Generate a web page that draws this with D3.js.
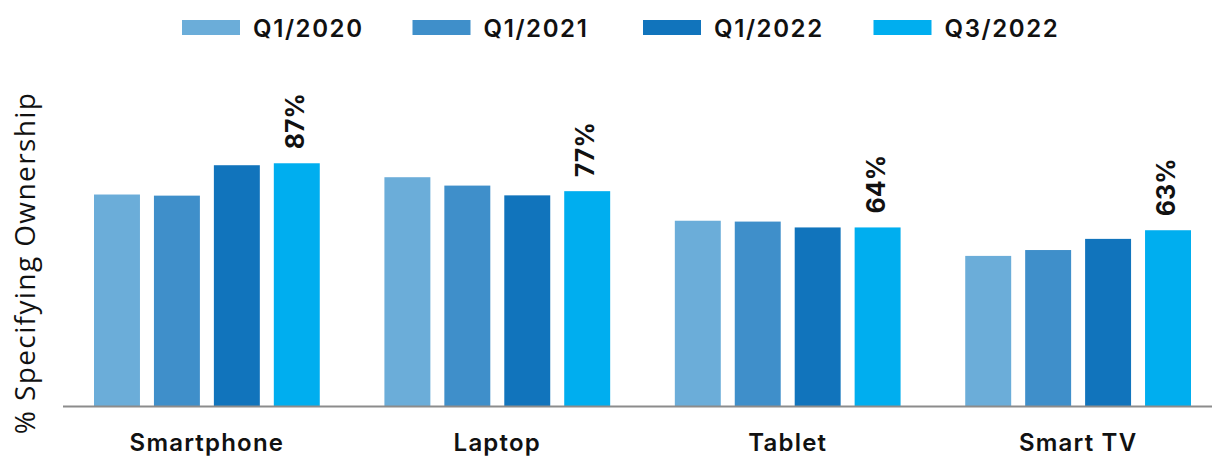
<!DOCTYPE html>
<html>
<head>
<meta charset="utf-8">
<script src="https://cdn.jsdelivr.net/npm/d3@7"></script>
<style>
	body { margin: 0; background: #fff; }
	svg { display: block; font-family: Inter, 'Open Sans', sans-serif; }
</style>
</head>
<body>
<div class="content"></div>
<script>
const w = 1226;
const h = 456;

const categories = ['Smartphone', 'Laptop', 'Tablet', 'Smart TV'];
const series = ['Q1/2020', 'Q1/2021', 'Q1/2022', 'Q3/2022'];
const colors = ['#6badd9', '#3f8fca', '#1174bc', '#00aeef'];

// one array per period, in category order
const q1_2020 = [75.8, 82.0, 66.4, 53.8];
const q1_2021 = [75.4, 79.0, 66.1, 55.9];
const q1_2022 = [86.3, 75.5, 64.0, 59.9];
const q3_2022 = [87, 77, 64, 63];
const values = [q1_2020, q1_2021, q1_2022, q3_2022];

const labelled = 'Q3/2022';

const data = categories.map((c, i) => ({
	category: c,
	bars: series.map((s, j) => ({ series: s, value: values[j][i] }))
}));

const svg = d3.select('.content').append('svg')
	.attr('width', w)
	.attr('height', h);

const x0 = d3.scaleBand()
	.domain(categories)
	.range([94, 1191])
	.paddingInner(0.2226)
	.paddingOuter(0);

const x1 = d3.scaleBand()
	.domain(series)
	.range([0, x0.bandwidth()])
	.paddingInner(0.2333)
	.paddingOuter(0);

const y = d3.scaleLinear()
	.domain([0, 100])
	.range([406, 127]);

const color = d3.scaleOrdinal()
	.domain(series)
	.range(colors);

// legend
const legend = svg.append('g')
	.attr('id', 'legend');

const item = legend.selectAll('g')
	.data(series)
	.enter()
	.append('g')
	.attr('transform', (d, i) => 'translate(' + (182 + i * 230.5) + ',0)');

item.append('rect')
	.attr('x', 0)
	.attr('y', 20)
	.attr('width', 58)
	.attr('height', 15)
	.attr('fill', (d) => color(d));

item.append('text')
	.attr('x', 71)
	.attr('y', 37)
	.style('font-size', '24px')
	.style('font-weight', 600)
	.style('letter-spacing', '1.6px')
	.style('fill', '#111')
	.text((d) => d);

// bars
const groups = svg.selectAll('.group')
	.data(data)
	.enter()
	.append('g')
	.attr('class', 'group')
	.attr('transform', (d) => 'translate(' + x0(d.category) + ',0)');

groups.selectAll('rect')
	.data((d) => d.bars)
	.enter()
	.append('rect')
	.attr('x', (d) => x1(d.series))
	.attr('y', (d) => y(d.value))
	.attr('width', x1.bandwidth())
	.attr('height', (d) => y(0) - y(d.value))
	.attr('fill', (d) => color(d.series));

groups.selectAll('.value')
	.data((d) => d.bars.filter((b) => b.series === labelled))
	.enter()
	.append('text')
	.attr('class', 'value')
	.attr('transform', (d) => 'translate(' + (x1(d.series) + x1.bandwidth() / 2 + 7) + ',' + (y(d.value) - 14) + ') rotate(-90)')
	.style('font-size', '25px')
	.style('font-weight', 700)
	.style('fill', '#111')
	.text((d) => d.value + '%');

// baseline axis
const xAxis = d3.axisBottom(x0)
	.tickSize(0)
	.tickPadding(44);

const axisG = svg.append('g')
	.attr('id', 'x-axis')
	.attr('transform', 'translate(0,' + y(0) + ')')
	.call(xAxis);

axisG.select('.domain').remove();
axisG.selectAll('text')
	.style('font-family', 'Inter, sans-serif')
	.style('font-size', '24px')
	.style('font-weight', 600)
	.style('letter-spacing', '1.2px')
	.style('fill', '#111')
	.attr('dy', '0.05em');

svg.append('line')
	.attr('x1', 63)
	.attr('x2', 1212)
	.attr('y1', y(0) + 0.5)
	.attr('y2', y(0) + 0.5)
	.style('stroke', '#8c8c8c')
	.style('stroke-width', 2);

// y title
svg.append('text')
	.attr('transform', 'translate(35,263) rotate(-90)')
	.attr('text-anchor', 'middle')
	.style('font-family', "'Open Sans', sans-serif")
	.style('font-size', '28px')
	.style('font-weight', 500)
	.style('letter-spacing', '1.4px')
	.style('fill', '#111')
	.text('% Specifying Ownership');
</script>
</body>
</html>
